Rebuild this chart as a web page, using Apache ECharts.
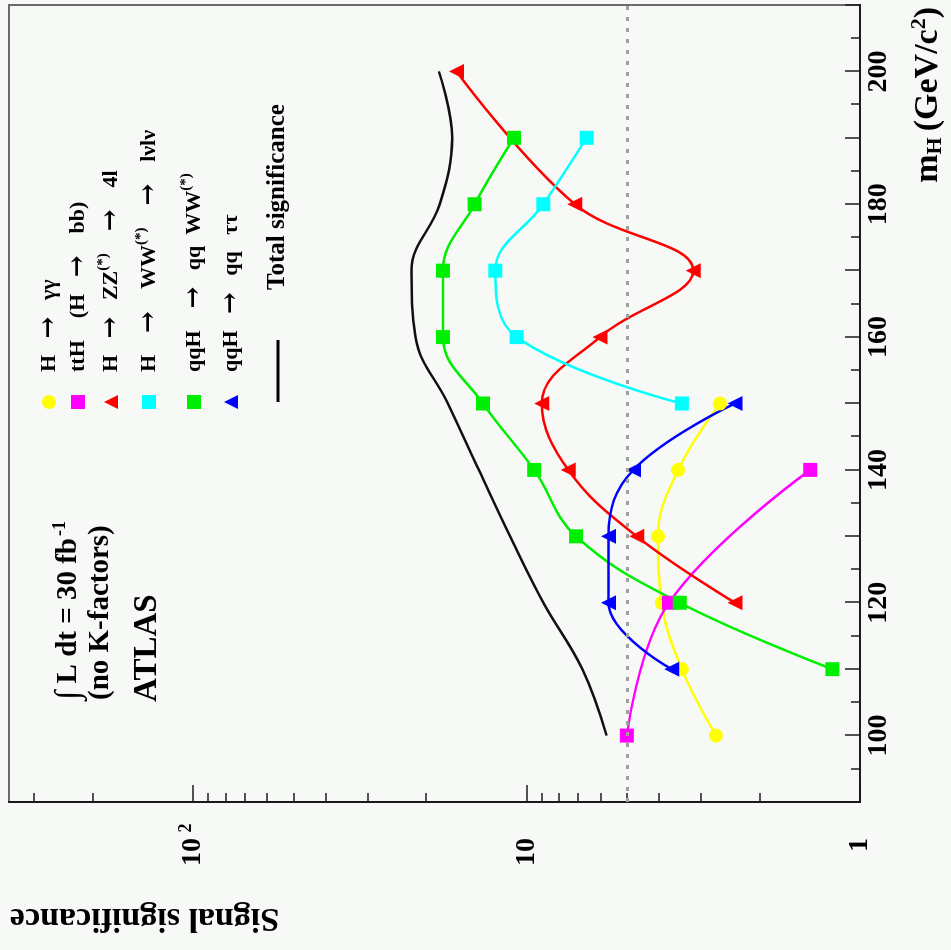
<!DOCTYPE html>
<html>
<head>
<meta charset="utf-8">
<title>ATLAS signal significance</title>
<script src="https://cdn.jsdelivr.net/npm/echarts@6/dist/echarts.min.js"></script>
<style>
    html, body { margin: 0; padding: 0; background: #f6f9f6; overflow: hidden; }
    /* the plot is drawn upright, then turned a quarter turn to the left like the scan */
    #chart {
        position: absolute; left: 0; top: 0;
        width: 950px; height: 951px;
        transform-origin: 0 0;
        transform: translateY(950px) rotate(-90deg);
    }
</style>
</head>
<body>
<div id="chart"></div>
<script>
// Higgs mass points (GeV/c^2) and signal significance per channel, 30 fb^-1
let massGamma = [100, 110, 120, 130, 140, 150];
let sigGamma = [2.70, 3.42, 3.93, 4.03, 3.51, 2.63];

let massTtH = [100, 120, 140];
let sigTtH = [5.0, 3.74, 1.41];

let massZZ = [120, 130, 140, 150, 160, 170, 180, 200];
let sigZZ = [2.37, 4.67, 7.49, 9.0, 6.02, 3.16, 7.16, 16.2];

let massWW = [150, 160, 170, 180, 190];
let sigWW = [3.42, 10.7, 12.4, 8.9, 6.6];

let massQqWW = [110, 120, 130, 140, 150, 160, 170, 180, 190];
let sigQqWW = [1.21, 3.47, 7.1, 9.48, 13.5, 17.8, 17.8, 14.3, 10.9];

let massQqTau = [110, 120, 130, 140, 150];
let sigQqTau = [3.67, 5.68, 5.68, 4.78, 2.37];

let massTotal = [100, 110, 120, 130, 140, 150, 160, 170, 180, 190, 200];
let sigTotal = [5.75, 6.8, 8.9, 11.2, 13.9, 17.2, 21.5, 22.1, 18.2, 16.7, 18.3];

let discoveryLevel = 5;

// axis ticks
let massLabels = [100, 120, 140, 160, 180, 200];
let sigLabels = [1, 10, 100];
let sigMinorTicks = [2, 3, 4, 5, 6, 7, 8, 9, 20, 30, 40, 50, 60, 70, 80, 90, 200, 300];

let serif = '"Liberation Serif", "DejaVu Serif", serif';

function pairs(masses, values) {
    return masses.map(function (m, i) {
        return [m, values[i]];
    });
}

function channel(name, color, symbol, masses, values) {
    return {
        name: name,
        type: 'line',
        smooth: 0.4,
        data: pairs(masses, values),
        symbol: symbol,
        symbolSize: symbol === 'triangle' ? 15 : 14,
        itemStyle: {color: color},
        lineStyle: {color: color, width: 2.5},
        z: 3
    };
}

// legend texts (superscripts and arrows as rich text)
let legendText = {
    'H → γγ': 'H   {a|→}   γγ',
    'ttH (H → bb)': 'ttH    (H   {a|→}    bb)',
    'H → ZZ(*) → 4l': 'H   {a|→}   ZZ{sup|(*)}    {a|→}    4l',
    'H → WW(*) → lνlν': 'H    {a|→}    WW{sup|(*)}    {a|→}    lνlν',
    'qqH → qq WW(*)': 'qqH    {a|→}   qq  WW{sup|(*)}',
    'qqH → qq ττ': 'qqH   {a|→}   qq   ττ'
};

let chart = echarts.init(document.getElementById('chart'));

let option = {
    animation: false,
    backgroundColor: '#f6f9f6',
    textStyle: {fontFamily: serif},
    grid: {
        left: 148, right: 5, top: 9, bottom: 91,
        show: true,
        borderColor: '#6a6a6a',
        borderWidth: 2,
        backgroundColor: 'transparent'
    },
    legend: [
        {
            orient: 'vertical',
            left: 541, top: 36,
            padding: 0,
            itemGap: 0,
            itemWidth: 14, itemHeight: 14,
            formatter: function (name) {
                return legendText[name] || name;
            },
            textStyle: {
                fontFamily: serif, fontWeight: 'bold', fontSize: 22, color: '#000',
                padding: [0, 0, 0, 18],
                rich: {
                    sup: {fontFamily: serif, fontWeight: 'bold', fontSize: 15, padding: [0, 0, 16, 0]},
                    a: {fontFamily: '"DejaVu Serif", serif', fontSize: 26}
                }
            },
            data: [
                {name: 'H → γγ', icon: 'circle', textStyle: {lineHeight: 24}},
                {name: 'ttH (H → bb)', icon: 'rect', textStyle: {lineHeight: 32}},
                {name: 'H → ZZ(*) → 4l', icon: 'triangle', textStyle: {lineHeight: 34}},
                {name: 'H → WW(*) → lνlν', icon: 'rect', textStyle: {lineHeight: 42}},
                {name: 'qqH → qq WW(*)', icon: 'rect', textStyle: {lineHeight: 48}},
                {name: 'qqH → qq ττ', icon: 'triangle', textStyle: {lineHeight: 18}}
            ]
        },
        {
            orient: 'vertical',
            left: 548, top: 253,
            padding: 0,
            itemWidth: 62, itemHeight: 3,
            textStyle: {
                fontFamily: serif, fontWeight: 'bold', fontSize: 25, color: '#000',
                lineHeight: 26, padding: [0, 0, 24, 45]
            },
            data: [{name: 'Total significance', icon: 'rect'}]
        }
    ],
    graphic: [
        {
            type: 'text', left: 250, top: 51,
            style: {
                text: '{i|∫} L dt = 30 fb{sup|-1}',
                font: 'bold 29px ' + serif,
                fill: '#000',
                rich: {
                    i: {fontFamily: serif, fontSize: 34},
                    sup: {fontFamily: serif, fontWeight: 'bold', fontSize: 18, padding: [0, 0, 18, 2]}
                }
            }
        },
        {
            type: 'text', left: 250, top: 86,
            style: {text: '(no K-factors)', font: 'bold 29px ' + serif, fill: '#000'}
        },
        {
            type: 'text', left: 248, top: 131,
            style: {text: 'ATLAS', font: 'bold 33px ' + serif, fill: '#000'}
        }
    ],
    xAxis: {
        type: 'value',
        min: 90, max: 210, interval: 10,
        name: '{n|m}{sub|H}  {n|(GeV/c}{sup|2}{n|)}',
        nameLocation: 'end',
        nameGap: -2,
        nameMoveOverlap: false,
        nameTextStyle: {
            align: 'right', verticalAlign: 'top',
            padding: [48, 0, 0, 0],
            rich: {
                n: {fontFamily: serif, fontWeight: 'bold', fontSize: 34, color: '#000'},
                sub: {fontFamily: serif, fontWeight: 'bold', fontSize: 22, color: '#000', padding: [14, 0, 0, 0]},
                sup: {fontFamily: serif, fontWeight: 'bold', fontSize: 22, color: '#000', padding: [0, 0, 18, 0]}
            }
        },
        axisLine: {lineStyle: {color: '#1a1a1a', width: 2}},
        axisTick: {inside: true, length: 15, lineStyle: {color: '#1a1a1a', width: 1.5}},
        minorTick: {show: true, splitNumber: 2, length: 9, lineStyle: {color: '#1a1a1a', width: 1.5}},
        splitLine: {show: false},
        axisLabel: {
            customValues: massLabels,
            margin: 5,
            fontFamily: serif, fontWeight: 'bold', fontSize: 28, color: '#000'
        }
    },
    yAxis: [
        {
            type: 'log',
            logBase: 10,
            min: 1, max: 356,
            position: 'left',
            name: 'Signal significance',
            nameLocation: 'end',
            nameRotate: 90,
            nameGap: -1,
            nameMoveOverlap: false,
            nameTextStyle: {
                align: 'right', verticalAlign: 'bottom',
                padding: [0, 0, 99, 0],
                fontFamily: serif, fontWeight: 'bold', fontSize: 34, color: '#000'
            },
            axisLine: {show: true, lineStyle: {color: '#1a1a1a', width: 2}},
            axisTick: {inside: true, length: 17, customValues: sigLabels, lineStyle: {color: '#1a1a1a', width: 1.5}},
            splitLine: {show: false},
            axisLabel: {
                customValues: sigLabels,
                margin: 18,
                formatter: function (v) {
                    let p = Math.round(Math.log10(v));
                    if (p < 2) {
                        return '{n|' + Math.pow(10, p) + '}{s| }';
                    }
                    return '{n|10}{s|' + p + '}';
                },
                rich: {
                    n: {fontFamily: serif, fontWeight: 'bold', fontSize: 28, color: '#000'},
                    s: {fontFamily: serif, fontWeight: 'bold', fontSize: 18, color: '#000', width: 16, align: 'left', padding: [0, 0, 14, 2]}
                }
            }
        },
        {
            // minor ticks of the log axis
            type: 'log',
            logBase: 10,
            min: 1, max: 356,
            position: 'left',
            axisLine: {show: false},
            axisTick: {show: true, inside: true, length: 9, customValues: sigMinorTicks, lineStyle: {color: '#1a1a1a', width: 1.5}},
            axisLabel: {show: false},
            splitLine: {show: false}
        }
    ],
    series: [
        channel('H → γγ', '#ffff00', 'circle', massGamma, sigGamma),
        channel('ttH (H → bb)', '#ff00ff', 'rect', massTtH, sigTtH),
        channel('H → ZZ(*) → 4l', '#ff0000', 'triangle', massZZ, sigZZ),
        channel('H → WW(*) → lνlν', '#00ffff', 'rect', massWW, sigWW),
        channel('qqH → qq WW(*)', '#00ee00', 'rect', massQqWW, sigQqWW),
        channel('qqH → qq ττ', '#0000ff', 'triangle', massQqTau, sigQqTau),
        {
            name: 'Total significance',
            type: 'line',
            smooth: 0.4,
            symbol: 'none',
            data: pairs(massTotal, sigTotal),
            itemStyle: {color: '#000'},
            lineStyle: {color: '#111', width: 2.5},
            z: 2,
            markLine: {
                silent: true,
                symbol: 'none',
                label: {show: false},
                lineStyle: {color: '#a0a0a0', width: 3, type: [4, 7]},
                data: [{yAxis: discoveryLevel}]
            }
        }
    ]
};

chart.setOption(option);
</script>
</body>
</html>
